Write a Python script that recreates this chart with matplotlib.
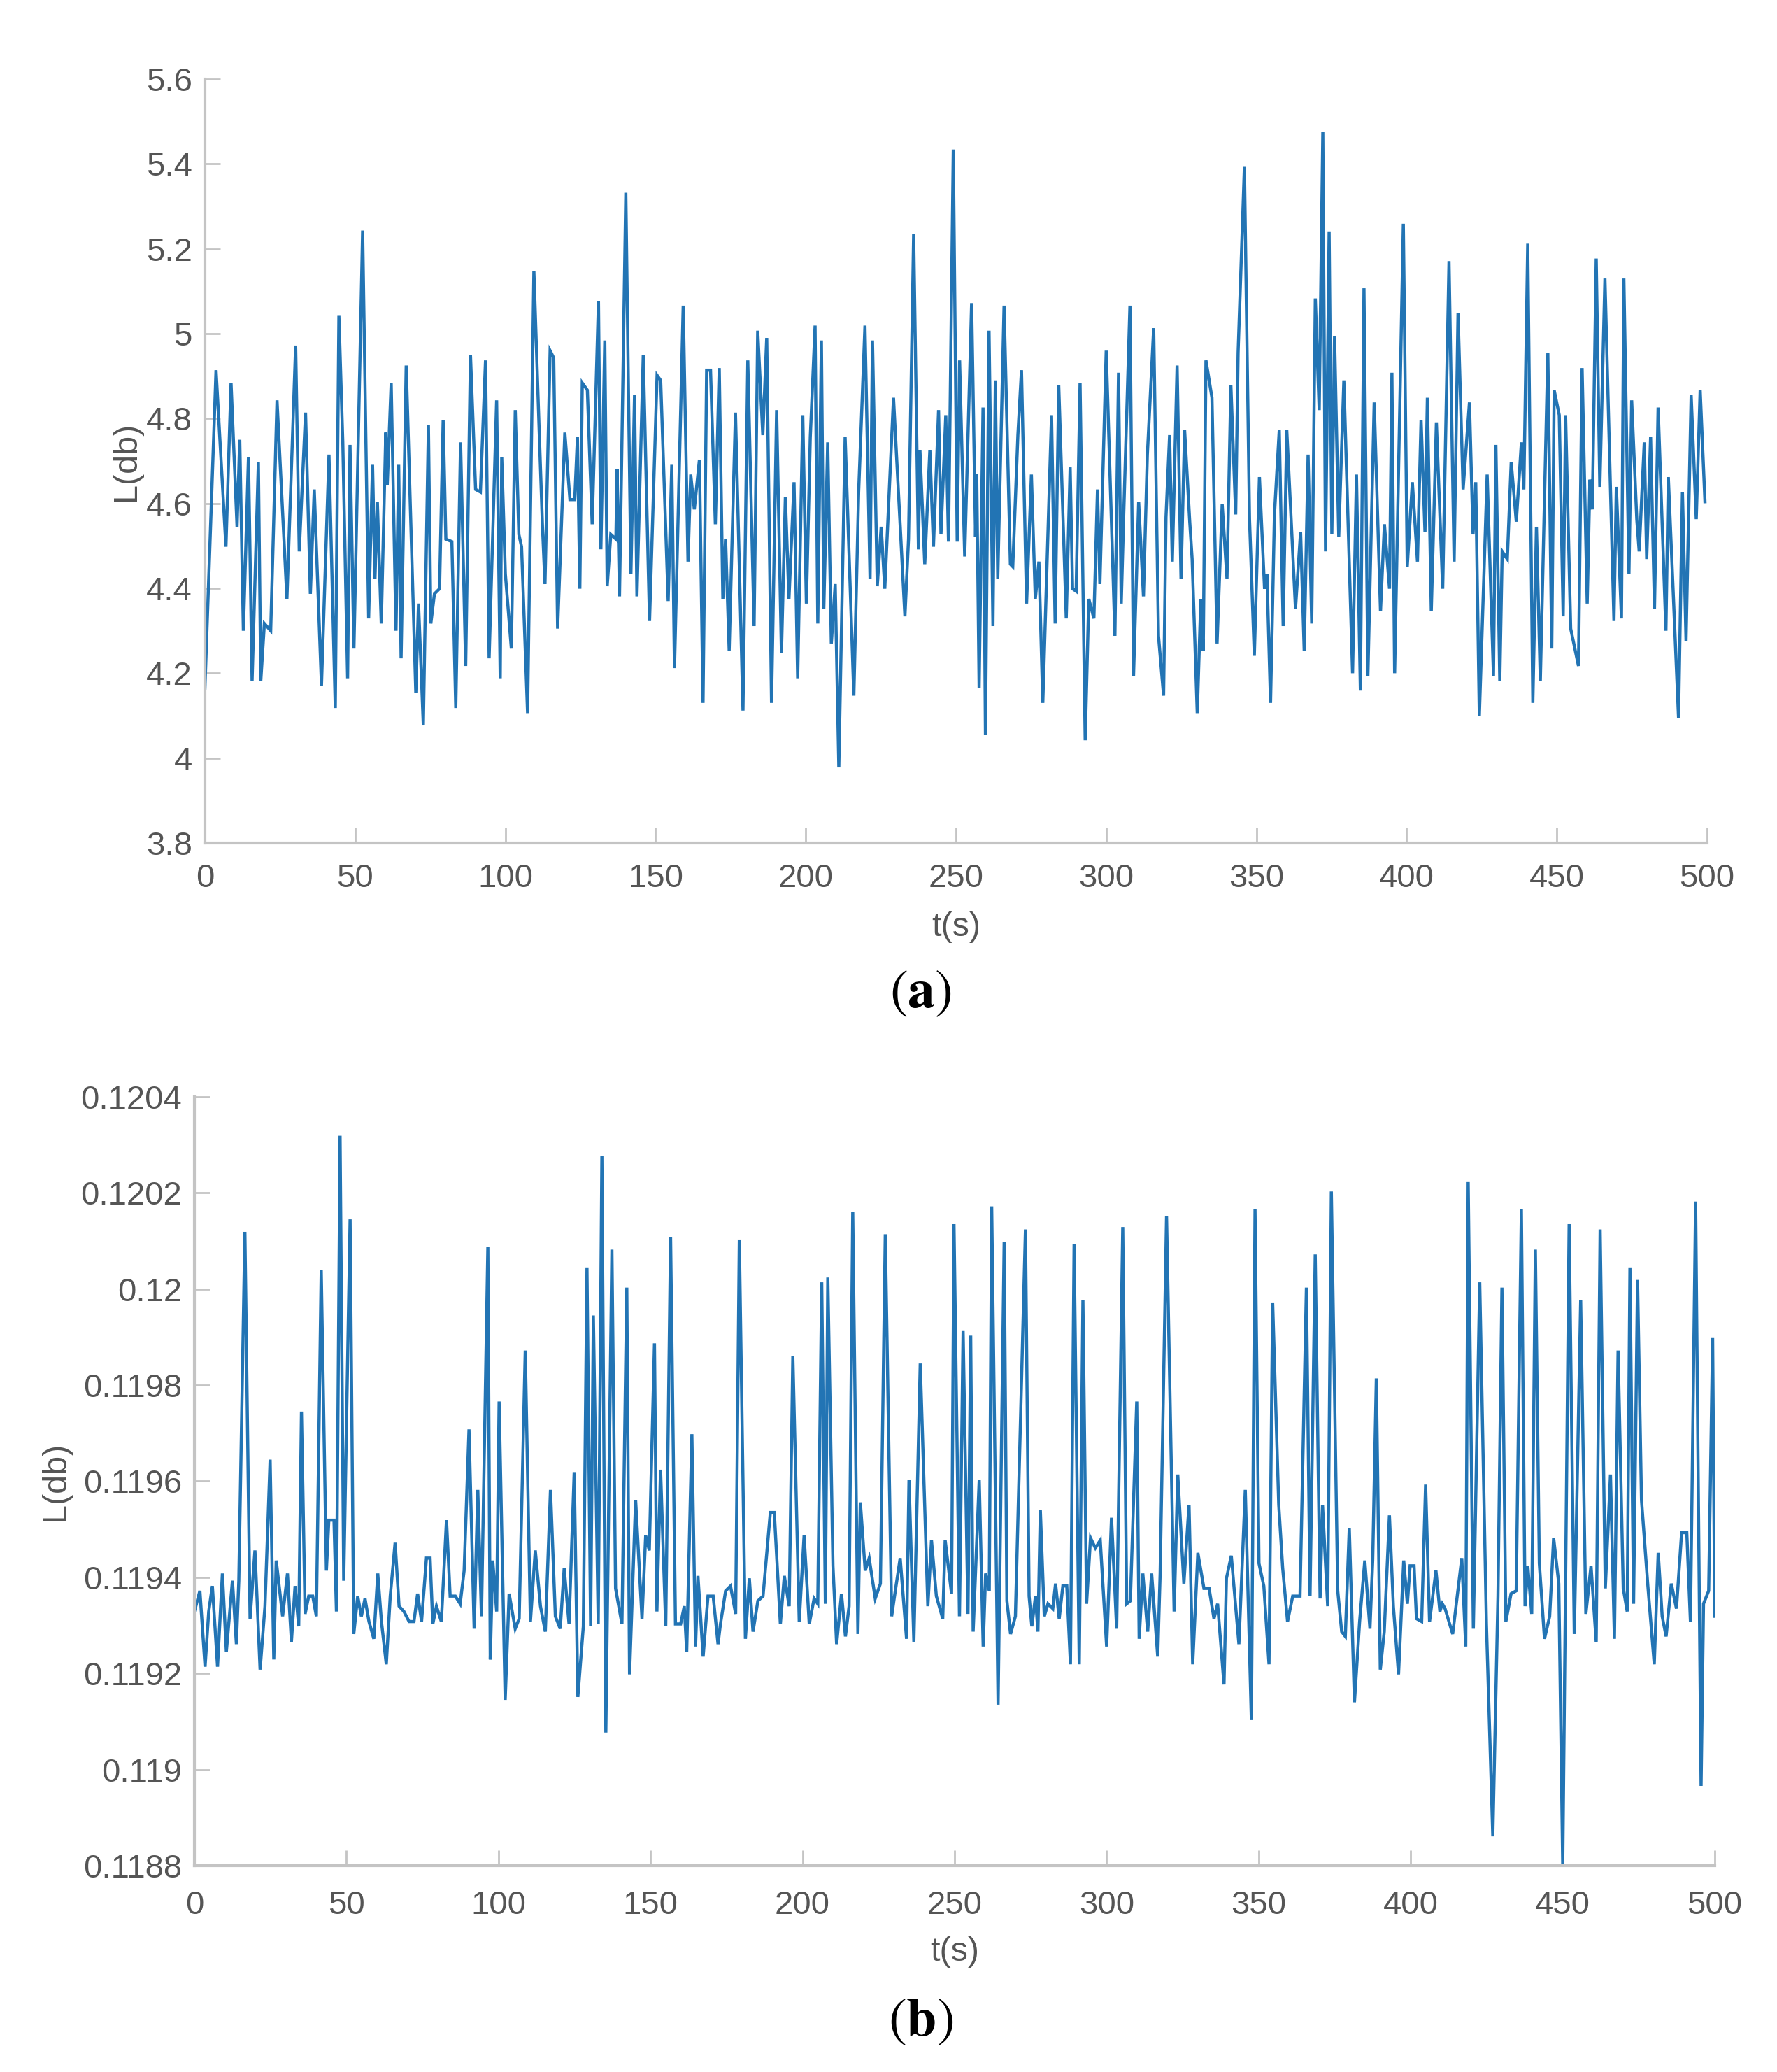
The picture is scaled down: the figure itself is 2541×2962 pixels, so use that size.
import numpy as np
import matplotlib
matplotlib.use("Agg")
import matplotlib.pyplot as plt  # noqa: E402

# ---- data (t in s, L in db) ----
t_a = [0.0, 3.7, 7.0, 8.7, 10.7, 11.6, 12.8, 14.5, 15.7, 17.8, 18.6, 19.8, 21.9, 24.0, 27.3,
       30.2, 31.4, 33.5, 35.1, 36.4, 38.8, 41.3, 43.4, 44.6, 45.3, 45.9, 47.5, 48.3, 49.6,
       52.5, 54.5, 55.8, 56.6, 57.4, 58.7, 60.2, 60.7, 62.0, 63.6, 64.5, 65.3, 67.0, 70.2,
       71.1, 72.7, 74.4, 75.2, 76.4, 78.1, 79.3, 80.2, 82.2, 83.5, 85.1, 86.8, 88.4, 90.1,
       91.7, 93.4, 94.6, 97.1, 98.3, 98.8, 100.0, 102.0, 103.3, 104.5, 105.4, 107.4, 109.5,
       111.2, 112.4, 113.2, 114.9, 116.1, 117.4, 119.8, 121.5, 123.1, 124.0, 124.8, 125.6,
       127.3,
       128.9, 131.0, 131.8, 133.1, 133.9, 135.1, 136.8, 137.2, 138.0, 140.1, 141.8, 143.0,
       143.8, 145.9, 148.0, 150.5, 151.7, 154.2, 155.4, 156.3, 159.2, 160.8, 161.7, 162.9,
       164.6, 165.8, 167.0, 168.3, 169.9, 171.2, 172.4, 173.3, 174.5, 176.6, 179.1, 180.7,
       182.8, 184.0, 185.7, 187.0, 188.6, 190.3, 191.9, 193.2, 194.4, 196.1, 197.3, 199.0,
       200.2, 201.5, 203.1, 204.0, 205.2, 206.0, 207.3, 208.5, 209.8, 211.0, 213.1, 216.0,
       217.6, 219.7, 221.4, 222.2, 223.8, 225.1, 226.3, 229.2, 233.0, 234.2, 235.9, 237.5,
       238.0, 239.6, 241.3, 242.5, 244.2, 245.0, 246.6, 247.5, 249.1, 250.4, 251.2, 252.9,
       255.2, 256.5, 256.9, 257.7, 259.0, 259.8, 261.0, 262.3, 263.1, 263.9, 266.0, 268.1,
       268.9, 270.6, 271.8, 273.5, 275.1, 276.4, 277.6, 278.9, 281.8, 283.0, 284.2, 286.7,
       288.0, 288.8, 290.0, 291.3, 293.0, 294.2, 295.9, 297.1, 297.9, 300.0, 302.9, 304.1,
       305.0, 305.8, 307.9, 309.1, 310.8, 312.4, 313.7, 315.8, 317.4, 319.1, 319.9, 321.1,
       322.0, 323.6, 324.9, 326.1, 327.8, 328.6, 330.3, 331.5, 332.3, 333.2, 335.2, 336.9,
       338.6, 340.2, 341.5, 343.1, 343.9, 346.0, 347.7, 349.3, 351.0, 352.7, 353.5, 354.7,
       356.0, 357.6, 358.9, 360.1, 363.0, 364.7, 365.9, 367.2, 368.4, 369.6, 370.9, 372.1,
       373.0, 374.2, 375.1, 376.0,
       377.4, 379.1, 382.0, 383.3, 384.6, 385.8, 387.1, 389.2, 391.3, 392.6, 394.3, 395.1,
       396.0, 398.9, 400.2, 401.9, 403.6, 404.8, 406.1, 406.9, 408.2, 409.9, 412.0, 414.1,
       415.8, 417.1, 418.8, 420.9, 422.1, 423.0, 424.2, 426.8, 428.9, 429.7, 431.0, 431.8,
       433.5, 434.8, 436.5, 438.2, 439.0, 440.3, 442.0, 443.2, 444.5, 447.0, 448.3, 449.1,
       450.8, 452.1, 452.9, 454.6, 457.2, 458.4, 460.1, 461.0, 461.8, 463.1, 464.3, 466.0,
       469.0, 469.8, 471.5, 472.3, 474.0, 474.9, 476.6, 477.4, 479.1, 479.9, 481.2, 482.5,
       483.7, 486.3, 487.1, 490.5, 491.8, 493.0, 494.7, 496.4, 497.7, 499.3]

L_a = [4.165, 4.914, 4.498, 4.884, 4.545, 4.750, 4.300, 4.709, 4.182, 4.697, 4.182, 4.317,
       4.300, 4.843, 4.375, 4.972, 4.487, 4.814, 4.387, 4.633, 4.171, 4.715, 4.118, 5.042,
       4.884, 4.744, 4.188, 4.738, 4.258, 5.243, 4.329, 4.691, 4.422, 4.604, 4.317, 4.767,
       4.644, 4.884, 4.300, 4.691, 4.235, 4.925, 4.153, 4.364, 4.077, 4.785, 4.317, 4.387,
       4.399, 4.797, 4.516, 4.510, 4.118, 4.744, 4.217, 4.949, 4.633, 4.627, 4.937, 4.235,
       4.843, 4.188, 4.709, 4.434, 4.258, 4.820, 4.527, 4.498, 4.106, 5.148, 4.785, 4.539,
       4.410, 4.960, 4.943, 4.305, 4.767, 4.609, 4.609, 4.756, 4.399, 4.884, 4.867,
       4.551, 5.077, 4.492, 4.984, 4.405, 4.527, 4.516, 4.680, 4.381, 5.332, 4.434, 4.855,
       4.381, 4.949, 4.323, 4.902, 4.890, 4.370, 4.691, 4.212, 5.066, 4.463, 4.668, 4.586,
       4.703, 4.130, 4.914, 4.914, 4.551, 4.919, 4.375, 4.516, 4.253, 4.814, 4.112, 4.937,
       4.311, 5.007, 4.761, 4.990, 4.130, 4.820, 4.247, 4.615, 4.375, 4.650, 4.188, 4.808,
       4.364, 4.756, 5.019, 4.317, 4.984, 4.352, 4.744, 4.270, 4.410, 3.978, 4.756, 4.147,
       4.627, 5.019, 4.422, 4.984, 4.405, 4.545, 4.399, 4.849, 4.334, 4.516, 5.235, 4.492,
       4.726, 4.457, 4.726, 4.498, 4.820, 4.527, 4.808, 4.510, 5.434, 4.510, 4.937, 4.475,
       5.072, 4.522, 4.668, 4.165, 4.826, 4.054, 5.007, 4.311, 4.890, 4.422, 5.066, 4.457,
       4.451, 4.761, 4.914, 4.364, 4.668, 4.375, 4.463, 4.130, 4.808, 4.317, 4.878, 4.329,
       4.685, 4.399, 4.393, 4.884, 4.042, 4.375, 4.329, 4.633, 4.410, 4.960, 4.288, 4.908,
       4.364, 4.568, 5.066, 4.194, 4.604, 4.381, 4.715, 5.013, 4.288, 4.147, 4.568, 4.761,
       4.463, 4.925, 4.422, 4.773, 4.557, 4.469, 4.106, 4.375, 4.253, 4.937, 4.849, 4.270,
       4.598, 4.422, 4.878, 4.574, 4.955, 5.393, 4.563, 4.241, 4.662, 4.399, 4.434, 4.130,
       4.574, 4.773, 4.311, 4.773, 4.352, 4.533, 4.253, 4.715, 4.317, 5.083, 4.820, 5.475,
       4.487, 5.241, 4.527, 4.995,
       4.522, 4.890, 4.200, 4.668, 4.159, 5.107, 4.194, 4.838, 4.346, 4.551, 4.399, 4.908,
       4.200, 5.259, 4.451, 4.650, 4.463, 4.797, 4.533, 4.849, 4.346, 4.791, 4.399, 5.171,
       4.463, 5.048, 4.633, 4.838, 4.527, 4.650, 4.100, 4.668, 4.194, 4.738, 4.182, 4.487,
       4.469, 4.697, 4.557, 4.744, 4.633, 5.212, 4.130, 4.545, 4.182, 4.955, 4.258, 4.867,
       4.808, 4.334, 4.808, 4.305, 4.217, 4.919, 4.364, 4.656, 4.586, 5.177, 4.639, 5.130,
       4.323, 4.639, 4.329, 5.130, 4.434, 4.843, 4.563, 4.487, 4.744, 4.469, 4.756, 4.352,
       4.826, 4.300, 4.662, 4.095, 4.627, 4.276, 4.855, 4.563, 4.867, 4.604]

t_b = [0.0, 1.8, 3.5, 4.7, 5.9, 7.6, 9.2, 10.5, 12.5, 13.8, 14.6, 16.6, 18.3, 19.9, 21.6,
       23.2, 24.9, 26.1, 26.9, 29.0, 30.6, 31.9, 33.1, 34.3, 35.2, 36.4, 37.6, 38.9, 40.1,
       41.7, 43.4, 44.2, 45.9, 46.7, 47.9, 49.1, 51.2, 52.4, 53.7, 54.9, 56.1, 57.4, 59.0,
       60.3, 61.5, 63.1, 64.4, 66.0, 67.3, 68.9, 70.6, 72.2, 73.4, 74.7, 76.3, 77.5, 78.4,
       79.6, 81.2, 82.9, 84.1, 85.8, 87.4, 88.7, 90.3, 92.0, 93.2, 94.4, 96.5, 97.3, 98.1,
       99.4, 100.2, 102.2, 103.5, 105.5, 106.8, 108.8, 110.5, 112.1, 113.8, 115.4, 117.1,
       118.7, 120.3, 121.6, 123.2, 124.9, 126.1,
       127.9, 129.1, 130.3, 131.2, 132.8, 134.0, 135.3, 137.3, 138.5, 140.6, 142.2, 143.1,
       145.1, 147.2, 148.4, 149.6, 151.3, 152.1, 153.3, 155.0, 156.6, 158.2, 159.9, 161.1,
       161.9, 163.6, 164.8, 165.6, 167.3, 168.9, 170.6, 172.2, 173.0, 174.7, 176.3, 178.0,
       179.2, 181.2, 182.5, 183.7, 185.3, 187.0, 189.4, 190.7, 192.7, 194.0, 195.6, 196.8,
       198.9, 200.5, 202.2, 203.8, 205.0, 206.3, 207.5, 208.3, 210.0, 211.2, 212.8, 214.1,
       215.3, 216.5, 218.2, 219.0, 220.6, 221.9, 223.9, 225.6, 227.2, 229.3, 230.5, 232.1,
       234.2, 235.0, 236.6, 238.7, 241.2, 242.4, 244.0, 246.1, 246.9, 249.0, 249.8,
       251.6, 252.8, 254.4, 255.3, 256.1, 258.1, 259.4, 260.2, 261.4, 262.2, 264.3, 266.3,
       267.2, 268.4, 270.0, 273.3, 274.5, 275.4, 276.6, 277.4, 278.2, 279.5, 280.7, 282.3,
       283.2, 284.4, 285.6, 286.9, 288.1, 289.3, 291.0, 292.2, 293.4, 294.7, 296.3, 297.9,
       300.0, 301.6, 303.3, 305.3, 306.6, 307.8, 309.9, 310.7, 311.9, 313.5, 314.8, 316.8,
       317.6, 319.7, 322.2, 323.4, 325.4, 327.1, 328.3, 330.0, 332.0, 333.7, 335.3, 336.5,
       338.6, 339.4, 341.0, 343.5, 345.6, 347.6, 348.8, 350.1, 351.7, 353.4, 354.6, 356.6,
       357.9, 359.5, 361.2, 363.6, 365.7, 366.9, 368.6, 370.2, 371.0, 372.7, 373.9,
       376.0, 377.3, 378.5, 379.8, 381.5, 383.2, 384.9, 386.6, 387.5, 388.7, 390.0, 391.3,
       393.0, 394.3, 396.0, 397.7, 398.9, 399.8, 401.1, 401.9, 403.6, 404.9, 406.2, 408.3,
       409.6, 410.4, 411.3, 413.8, 416.8, 418.1, 418.9, 420.6, 422.7, 424.9, 427.0, 428.7,
       430.0, 431.3, 433.0, 434.7, 436.4, 437.6, 438.5, 439.8, 441.0, 442.3, 444.0, 445.7,
       447.0, 448.7, 450.0, 452.1, 453.8, 455.9, 457.6, 459.3, 461.0, 462.3, 464.0, 465.7,
       467.0, 468.2, 469.9, 471.2, 472.1, 473.3, 474.6, 475.9, 478.0, 480.1, 481.4, 482.7,
       484.0, 485.7, 487.4, 489.1, 490.8, 492.0, 493.7, 495.5, 496.3, 498.0, 499.3, 500.0]

L_b = [0.119329, 0.119372, 0.119214, 0.119329, 0.119382, 0.119214, 0.119408, 0.119245,
       0.119393, 0.119261, 0.119393, 0.120119, 0.119314, 0.119456, 0.119208, 0.119340,
       0.119645, 0.119229, 0.119435, 0.119319, 0.119408, 0.119266, 0.119382, 0.119298,
       0.119745, 0.119324, 0.119361, 0.119361, 0.119319, 0.120040, 0.119414, 0.119519,
       0.119519, 0.119329, 0.120319, 0.119393, 0.120145, 0.119282, 0.119361, 0.119319,
       0.119356, 0.119308, 0.119272, 0.119408, 0.119308, 0.119219, 0.119361, 0.119472,
       0.119340, 0.119329, 0.119308, 0.119308, 0.119366, 0.119308, 0.119440, 0.119440,
       0.119303, 0.119340, 0.119308, 0.119519, 0.119361, 0.119361, 0.119345, 0.119414,
       0.119708, 0.119293, 0.119582, 0.119319, 0.120087, 0.119229, 0.119435, 0.119329,
       0.119766, 0.119145, 0.119366, 0.119293, 0.119314, 0.119872, 0.119308, 0.119456,
       0.119340, 0.119287, 0.119582, 0.119319, 0.119293, 0.119419, 0.119303, 0.119619,
       0.119151,
       0.119298, 0.120045, 0.119298, 0.119945, 0.119303, 0.120277, 0.119077, 0.120082,
       0.119377, 0.119303, 0.120003, 0.119198, 0.119561, 0.119314, 0.119487, 0.119456,
       0.119887, 0.119329, 0.119624, 0.119298, 0.120108, 0.119303, 0.119303, 0.119340,
       0.119245, 0.119698, 0.119256, 0.119403, 0.119235, 0.119361, 0.119361, 0.119261,
       0.119303, 0.119372, 0.119382, 0.119324, 0.120103, 0.119272, 0.119398, 0.119287,
       0.119351, 0.119361, 0.119535, 0.119535, 0.119303, 0.119403, 0.119340, 0.119861,
       0.119308, 0.119487, 0.119303, 0.119356, 0.119345, 0.120014, 0.119345, 0.120024,
       0.119424, 0.119261, 0.119366, 0.119277, 0.119340, 0.120161, 0.119282, 0.119556,
       0.119414, 0.119440, 0.119356, 0.119387, 0.120114, 0.119319, 0.119372, 0.119440,
       0.119272, 0.119603, 0.119266, 0.119845, 0.119340, 0.119477, 0.119361, 0.119314,
       0.119477, 0.119366, 0.120135,
       0.119319, 0.119914, 0.119324, 0.119903, 0.119287, 0.119603, 0.119256, 0.119408,
       0.119372, 0.120172, 0.119135, 0.120098, 0.119351, 0.119282, 0.119319, 0.120124,
       0.119361, 0.119298, 0.119361, 0.119287, 0.119540, 0.119319, 0.119345, 0.119335,
       0.119387, 0.119314, 0.119382, 0.119382, 0.119219, 0.120093, 0.119219, 0.119977,
       0.119345, 0.119482, 0.119461, 0.119477, 0.119256, 0.119524, 0.119293, 0.120129,
       0.119345, 0.119351, 0.119766, 0.119272, 0.119408, 0.119287, 0.119408, 0.119235,
       0.119408, 0.120151, 0.119329, 0.119614, 0.119387, 0.119551, 0.119219, 0.119451,
       0.119377, 0.119377, 0.119314, 0.119345, 0.119177, 0.119398, 0.119445, 0.119261,
       0.119582, 0.119103, 0.120166, 0.119429, 0.119382, 0.119219, 0.119972, 0.119551,
       0.119419, 0.119308, 0.119361, 0.119361, 0.120003, 0.119361, 0.120072, 0.119356,
       0.119551, 0.119340, 0.120203,
       0.119372, 0.119287, 0.119277, 0.119503, 0.119140, 0.119308, 0.119435, 0.119293,
       0.119435, 0.119814, 0.119208, 0.119287, 0.119529, 0.119340, 0.119198, 0.119435,
       0.119345, 0.119424, 0.119424, 0.119314, 0.119308, 0.119593, 0.119308, 0.119414,
       0.119329, 0.119345, 0.119335, 0.119282, 0.119440, 0.119256, 0.120224, 0.119293,
       0.120014, 0.119303, 0.118861, 0.119361, 0.120003, 0.119308, 0.119366, 0.119372,
       0.120166, 0.119340, 0.119424, 0.119324, 0.120082, 0.119429, 0.119272, 0.119319,
       0.119482, 0.119387, 0.118798, 0.120135, 0.119282, 0.119977, 0.119324, 0.119424,
       0.119266, 0.120124, 0.119377, 0.119614, 0.119272, 0.119872, 0.119377, 0.119329,
       0.120045, 0.119345, 0.120019, 0.119561, 0.119382, 0.119219, 0.119451, 0.119319,
       0.119277, 0.119387, 0.119335, 0.119493, 0.119493, 0.119308, 0.120182, 0.118966,
       0.119345, 0.119372, 0.119898, 0.119319]

x_ticks = list(range(0, 501, 50))
y_ticks_a = [3.8, 4.0, 4.2, 4.4, 4.6, 4.8, 5.0, 5.2, 5.4, 5.6]
y_labels_a = ["3.8", "4", "4.2", "4.4", "4.6", "4.8", "5", "5.2", "5.4", "5.6"]
y_ticks_b = [0.1188, 0.1190, 0.1192, 0.1194, 0.1196, 0.1198, 0.1200, 0.1202, 0.1204]
y_labels_b = ["0.1188", "0.119", "0.1192", "0.1194", "0.1196", "0.1198", "0.12",
              "0.1202", "0.1204"]

LINE_COLOR = "#2274b4"
AXIS_COLOR = "#c4c4c4"
TEXT_COLOR = "#555555"

plt.rcParams["font.family"] = ["Liberation Sans", "DejaVu Sans"]
plt.rcParams["mathtext.fontset"] = "stix"

fig = plt.figure(figsize=(25.41, 29.62), dpi=100)
ax_a = fig.add_axes([0.11531, 0.59318, 0.84534, 0.36867])
ax_b = fig.add_axes([0.10941, 0.09960, 0.85557, 0.37103])


def style_axes(ax, yticks, ylabels, xpad, xlabel_y, ylabel_x):
    ax.set_xlim(0, 500)
    ax.set_ylim(yticks[0], yticks[-1])
    ax.set_xticks(x_ticks)
    ax.set_yticks(yticks)
    ax.set_yticklabels(ylabels)
    for side in ("top", "right"):
        ax.spines[side].set_visible(False)
    for side in ("left", "bottom"):
        ax.spines[side].set_color(AXIS_COLOR)
        ax.spines[side].set_linewidth(3)
    ax.tick_params(direction="in", length=16, width=2, color=AXIS_COLOR,
                   labelsize=34, labelcolor=TEXT_COLOR)
    ax.tick_params(axis="x", pad=xpad)
    ax.tick_params(axis="y", pad=13)
    ax.set_xlabel("t(s)", fontsize=35, color=TEXT_COLOR, va="center")
    ax.xaxis.set_label_coords(0.5, xlabel_y)
    ax.set_ylabel("L(db)", fontsize=35, color=TEXT_COLOR, va="center")
    ax.yaxis.set_label_coords(ylabel_x, 0.5)


ax_a.plot(t_a, L_a, color=LINE_COLOR, linewidth=3.2, solid_joinstyle="miter")
style_axes(ax_a, y_ticks_a, y_labels_a, xpad=21, xlabel_y=-0.110, ylabel_x=-0.0526)

ax_b.plot(t_b, L_b, color=LINE_COLOR, linewidth=3.2, solid_joinstyle="miter")
style_axes(ax_b, y_ticks_b, y_labels_b, xpad=25, xlabel_y=-0.112, ylabel_x=-0.0911)

fig.text(0.5179, 0.5206, r"$(\mathbf{a})$", fontsize=56, ha="center", va="center",
         color="black")
fig.text(0.5183, 0.0243, r"$(\mathbf{b})$", fontsize=56, ha="center", va="center",
         color="black")

fig.savefig("out.png", dpi=100, facecolor="white")
plt.close(fig)
